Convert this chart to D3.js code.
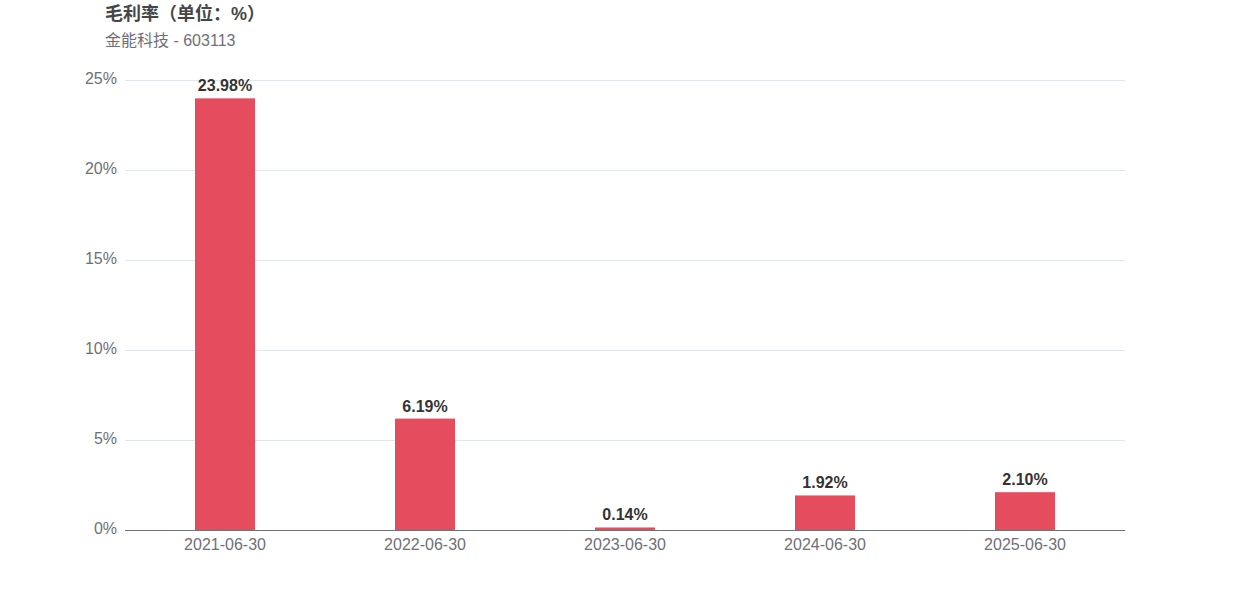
<!DOCTYPE html>
<html><head><meta charset="utf-8">
<script src="https://cdn.jsdelivr.net/npm/d3@7"></script>
<style>body{margin:0;background:#fff;font-family:"Liberation Sans",Arial,"Noto Sans CJK SC",sans-serif;}
.ttl{text-spacing-trim:space-all;font-feature-settings:"halt" 0,"palt" 0;}</style>
</head><body>
<svg id="c" width="1250" height="600"></svg>
<script>
const categories = ["2021-06-30","2022-06-30","2023-06-30","2024-06-30","2025-06-30"];
const values = [23.98, 6.19, 0.14, 1.92, 2.10];
const yTicks = [0,5,10,15,20,25];
const title = "毛利率（单位：%）";
const subtitle = "金能科技 - 603113";

const svg = d3.select("#c");
const font = '"Liberation Sans",Arial,"Noto Sans CJK SC",sans-serif';
const m = {l:125, r:1125, t:80, b:530};
const x = d3.scaleBand().domain(categories).range([m.l, m.r]);
const y = d3.scaleLinear().domain([0,25]).range([m.b, m.t]);

svg.append("text").attr("class","ttl").attr("x",105).attr("y",20).attr("font-size",18).attr("font-weight","bold")
  .attr("fill","#464646").attr("font-family",font).text(title);
svg.append("text").attr("x",105).attr("y",46).attr("font-size",16)
  .attr("fill","#6e7079").attr("font-family",font).text(subtitle);

// grid
svg.append("g").selectAll("line").data(yTicks.filter(d=>d>0)).join("line")
  .attr("x1",m.l).attr("x2",m.r).attr("y1",d=>y(d)+0.5).attr("y2",d=>y(d)+0.5)
  .attr("stroke","#e0e6f1");
// y labels
svg.append("g").selectAll("text").data(yTicks).join("text")
  .attr("x",117).attr("y",d=>y(d)-2).attr("dy","0.35em").attr("text-anchor","end")
  .attr("font-size",16).attr("fill","#6e7079").attr("font-family",font).text(d=>d+"%");
// bars
const bw = 60;
svg.append("g").selectAll("rect").data(values).join("rect")
  .attr("x",(d,i)=>x(categories[i])+x.bandwidth()/2-bw/2).attr("width",bw)
  .attr("y",d=>y(d)).attr("height",d=>y(0)-y(d)).attr("fill","#e54c5e");
// value labels
svg.append("g").selectAll("text").data(values).join("text")
  .attr("x",(d,i)=>x(categories[i])+x.bandwidth()/2).attr("y",d=>y(d)-7)
  .attr("text-anchor","middle").attr("font-size",16).attr("font-weight","bold")
  .attr("fill","#333").attr("font-family",font).text(d=>d.toFixed(2)+"%");
// x axis
svg.append("line").attr("x1",m.l).attr("x2",m.r).attr("y1",m.b+0.5).attr("y2",m.b+0.5).attr("stroke","#6e7079");
svg.append("g").selectAll("text").data(categories).join("text")
  .attr("x",d=>x(d)+x.bandwidth()/2).attr("y",550).attr("text-anchor","middle")
  .attr("font-size",16).attr("fill","#6e7079").attr("font-family",font).text(d=>d);
</script>
</body></html>
